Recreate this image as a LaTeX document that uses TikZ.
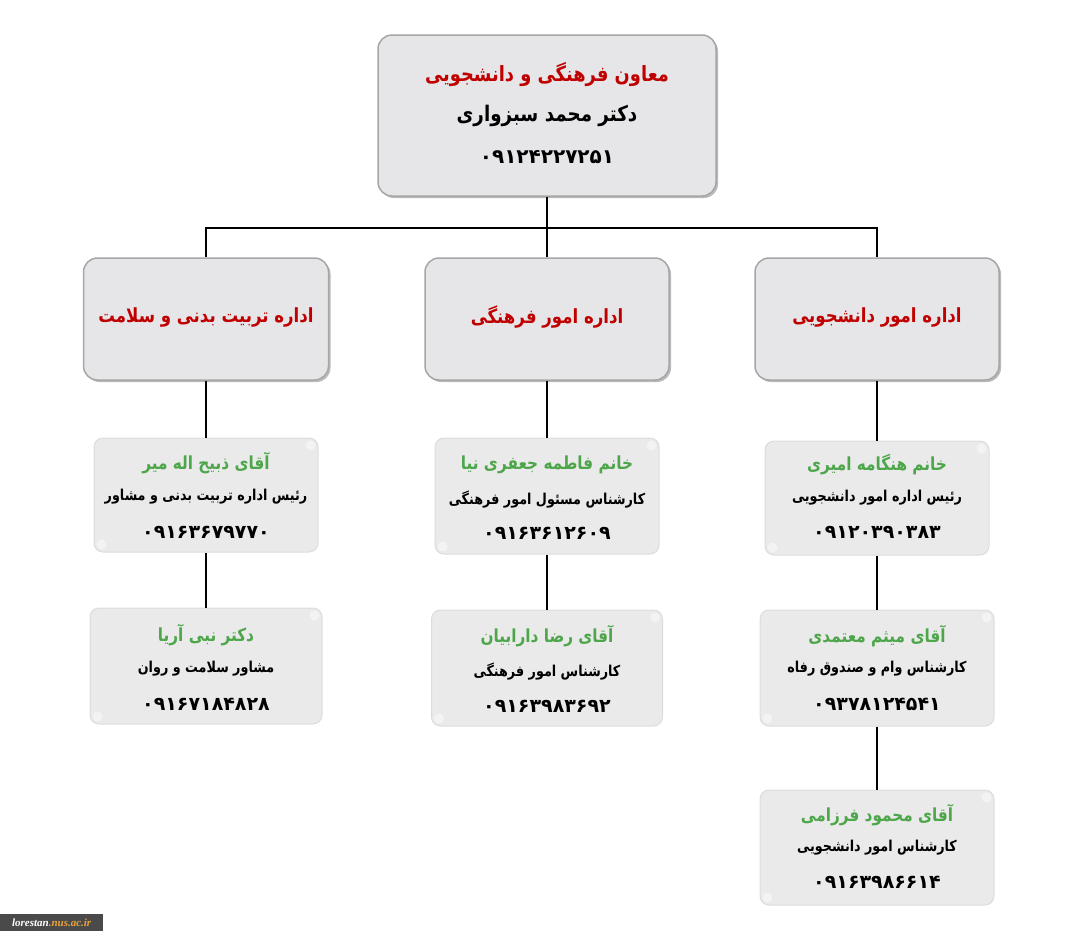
\documentclass[tikz,border=0pt]{standalone}
\usepackage{fontspec}
\usetikzlibrary{shadows,calc}
\TeXXeTstate=1
\newfontfamily\fa[Script=Arabic]{DejaVu Sans}
\newfontfamily\fan[Script=Arabic,FakeStretch=0.85]{DejaVu Sans}
\newfontfamily\wmf{Liberation Serif}
\definecolor{redt}{HTML}{C00000}
\definecolor{greent}{HTML}{4EA64B}
\definecolor{bigfill}{HTML}{E6E6E8}
\definecolor{bigline}{HTML}{A6A6A6}
\definecolor{smallfill}{HTML}{EAEAEA}
\definecolor{smallline}{HTML}{DCDCDC}
\definecolor{wmgray}{HTML}{4A4A4A}
\definecolor{wmorange}{HTML}{E8A33D}
\tikzset{
  bigbox/.style={draw=bigline, line width=1.5pt, fill=bigfill, rounded corners=14pt,
    drop shadow={shadow xshift=2pt, shadow yshift=-2pt, fill=black!45, opacity=0.6}},
  smallbox/.style={draw=smallline, line width=1pt, fill=smallfill, rounded corners=9pt},
  gloss/.style={fill=white, opacity=0.45},
  conn/.style={line width=1.4pt, black},
  toptitle/.style={text=redt, font=\fan\bfseries\fontsize{21}{24}\selectfont, inner sep=0pt},
  redtitle/.style={text=redt, font=\fan\bfseries\fontsize{19.5}{23}\selectfont, inner sep=0pt},
  blackname/.style={text=black, font=\fan\bfseries\fontsize{21.5}{24}\selectfont, inner sep=0pt},
  numbig/.style={text=black, font=\fa\bfseries\fontsize{20}{24}\selectfont, inner sep=0pt},
  greenname/.style={text=greent, font=\fan\bfseries\fontsize{18}{22}\selectfont, inner sep=0pt},
  role/.style={text=black, font=\fan\bfseries\fontsize{15}{18}\selectfont, inner sep=0pt},
  num/.style={text=black, font=\fa\bfseries\fontsize{19}{22}\selectfont, inner sep=0pt},
}
\begin{document}
\begin{tikzpicture}[x=1pt,y=-1pt]
\useasboundingbox (0,0) rectangle (1078,940);
% top box
\node[bigbox, minimum width=338pt, minimum height=161pt] (top) at (547,115.5) {};
\node[toptitle] (topt1) at (547,75) {\beginR معاون فرهنگی و دانشجویی\endR};
\node[blackname] (topt2) at (547,116) {\beginR دکتر محمد سبزواری\endR};
\node[numbig] (topt3) at (547,157) {۰۹۱۲۴۲۲۷۲۵۱};
% level 2
\node[bigbox, minimum width=245pt, minimum height=122pt] (b1) at (206,319) {};
\node[bigbox, minimum width=244pt, minimum height=122pt] (b2) at (547,319) {};
\node[bigbox, minimum width=244pt, minimum height=122pt] (b3) at (877,319) {};
\node[redtitle] (b1t) at (206,317) {\beginR اداره تربیت بدنی و سلامت\endR};
\node[redtitle] (b2t) at (547,317) {\beginR اداره امور فرهنگی\endR};
\node[redtitle] (b3t) at (877,317) {\beginR اداره امور دانشجویی\endR};
% level 3
\node[smallbox, minimum width=224pt, minimum height=114pt] (c1) at (206,495) {};
\node[smallbox, minimum width=224pt, minimum height=116pt] (c2) at (547,496) {};
\node[smallbox, minimum width=224pt, minimum height=114pt] (c3) at (877,498) {};
% level 4
\node[smallbox, minimum width=232pt, minimum height=116pt] (d1) at (206,666) {};
\node[smallbox, minimum width=231pt, minimum height=116pt] (d2) at (547,668) {};
\node[smallbox, minimum width=234pt, minimum height=116pt] (d3) at (877,668) {};
% level 5
\node[smallbox, minimum width=234pt, minimum height=115pt] (e3) at (877,847.5) {};
% gloss highlights
\foreach \n in {c1,c2,c3,d1,d2,d3,e3}{
  \fill[gloss] ($(\n.north east)+(-8,8)$) circle (5);
  \fill[gloss] ($(\n.south west)+(8,-8)$) circle (5);
}
% texts level 3
\node[greenname] (c1a) at (206,463) {\beginR آقای ذبیح اله میر\endR};
\node[role] (c1b) at (206,497) {\beginR رئیس اداره تربیت بدنی و مشاور\endR};
\node[num] (c1c) at (206,532) {۰۹۱۶۳۶۷۹۷۷۰};
\node[greenname] (c2a) at (547,465) {\beginR خانم فاطمه جعفری نیا\endR};
\node[role] (c2b) at (547,499) {\beginR کارشناس مسئول امور فرهنگی\endR};
\node[num] (c2c) at (547,533) {۰۹۱۶۳۶۱۲۶۰۹};
\node[greenname] (c3a) at (877,465) {\beginR خانم هنگامه امیری\endR};
\node[role] (c3b) at (877,498) {\beginR رئیس اداره امور دانشجویی\endR};
\node[num] (c3c) at (877,532) {۰۹۱۲۰۳۹۰۳۸۳};
% texts level 4
\node[greenname] (d1a) at (206,635) {\beginR دکتر نبی آریا\endR};
\node[role] (d1b) at (206,669) {\beginR مشاور سلامت و روان\endR};
\node[num] (d1c) at (206,704) {۰۹۱۶۷۱۸۴۸۲۸};
\node[greenname] (d2a) at (547,636) {\beginR آقای رضا دارابیان\endR};
\node[role] (d2b) at (547,671) {\beginR کارشناس امور فرهنگی\endR};
\node[num] (d2c) at (547,706) {۰۹۱۶۳۹۸۳۶۹۲};
\node[greenname] (d3a) at (877,636) {\beginR آقای میثم معتمدی\endR};
\node[role] (d3b) at (877,669) {\beginR کارشناس وام و صندوق رفاه\endR};
\node[num] (d3c) at (877,704) {۰۹۳۷۸۱۲۴۵۴۱};
% texts level 5
\node[greenname] (e3a) at (877,815) {\beginR آقای محمود فرزامی\endR};
\node[role] (e3b) at (877,848) {\beginR کارشناس امور دانشجویی\endR};
\node[num] (e3c) at (877,882) {۰۹۱۶۳۹۸۶۶۱۴};
% connectors
\coordinate (j) at (547,228);
\draw[conn] (top.south) -- (j);
\draw[conn] (j) -| (b1.north);
\draw[conn] (j) -| (b3.north);
\draw[conn] (j) -- (b2.north);
\draw[conn] (b1.south) -- (c1.north);
\draw[conn] (b2.south) -- (c2.north);
\draw[conn] (b3.south) -- (c3.north);
\draw[conn] (c1.south) -- (d1.north);
\draw[conn] (c2.south) -- (d2.north);
\draw[conn] (c3.south) -- (d3.north);
\draw[conn] (d3.south) -- (e3.north);
% watermark
\node[fill=wmgray, inner sep=0pt, minimum width=103pt, minimum height=17pt, anchor=north west] (wm) at (0,914) {};
\node[inner sep=0pt, font=\wmf\bfseries\itshape\fontsize{11}{12}\selectfont] (wmt) at (wm.center) {\textcolor{white}{lorestan}\textcolor{wmorange}{.nus.ac.ir}};
\end{tikzpicture}
\end{document}
